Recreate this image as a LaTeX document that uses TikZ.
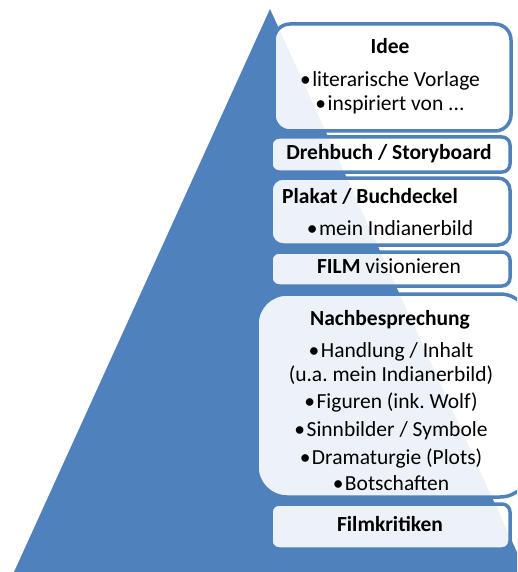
\documentclass[tikz,border=0pt]{standalone}
\usepackage{fontspec}
\setmainfont{Carlito}
\frenchspacing
\definecolor{pyrblue}{HTML}{4F81BD}
\newcommand{\bul}{•\kern1.5pt}
\tikzset{
	lvlbox/.style = {draw = pyrblue, line width = 3.5pt, fill = white, fill opacity = 0.9},
	lvltext/.style = {font = \fontsize{21.5}{26}\selectfont, text height = 15pt, text depth = 4.5pt, inner sep = 0pt},
	lvlhead/.style = {lvltext, font = \fontsize{21.5}{26}\selectfont\bfseries},
}

\begin{document}
\begin{tikzpicture}[x = 1pt, y = -1pt]
			\useasboundingbox (0, 0) rectangle (517, 572);
			\clip (0, 0) rectangle (517, 572);
			\fill[pyrblue] (270, 9) -- (14, 572) -- (526, 572) -- cycle;
			
			\draw[lvlbox, rounded corners = 16pt] (274, 24) rectangle (511, 131);
			\draw[lvlbox, rounded corners = 8pt] (271, 137) rectangle (510, 172);
			\draw[lvlbox, rounded corners = 12pt] (271, 178) rectangle (510, 245);
			\draw[lvlbox, rounded corners = 8pt] (271, 252) rectangle (510, 286);
			\draw[lvlbox, rounded corners = 30pt] (257, 294) rectangle (530, 497);
			\draw[lvlbox, rounded corners = 8pt] (271, 504) rectangle (510, 549);
			
			\node[lvlhead] (idee) at (390, 48) {Idee};
			\node[lvltext] (vorlage) at (390, 81) {\bul literarische Vorlage};
			\node[lvltext] (inspiriert) at (390, 105) {\bul inspiriert von ...};
			
			\node[lvlhead] (drehbuch) at (389, 154) {Drehbuch / Storyboard};
			
			\node[lvlhead, anchor = west] (plakat) at (282, 198) {Plakat / Buchdeckel};
			\node[lvltext] (bild) at (390, 230) {\bul mein Indianerbild};
			
			\node[lvltext] (film) at (389, 268) {\textbf{FILM} visionieren};
			
			\node[lvlhead] (nachbespr) at (390, 320) {Nachbesprechung};
			\foreach \y/\t/\n in {352/{\bul Handlung / Inhalt}/handlung, 376/{(u.a. mein Indianerbild)}/ua,
				403/{\bul Figuren (ink. Wolf)}/figuren, 431/{\bul Sinnbilder / Symbole}/sinnbilder,
				459/{\bul Dramaturgie (Plots)}/dramaturgie, 485/{\bul Botschaften}/botschaften} {
				\node[lvltext] (\n) at (391, \y) {\t};
			}
			
			\node[lvlhead] (kritiken) at (390, 526) {Filmkritiken};
		\end{tikzpicture}
\end{document}
